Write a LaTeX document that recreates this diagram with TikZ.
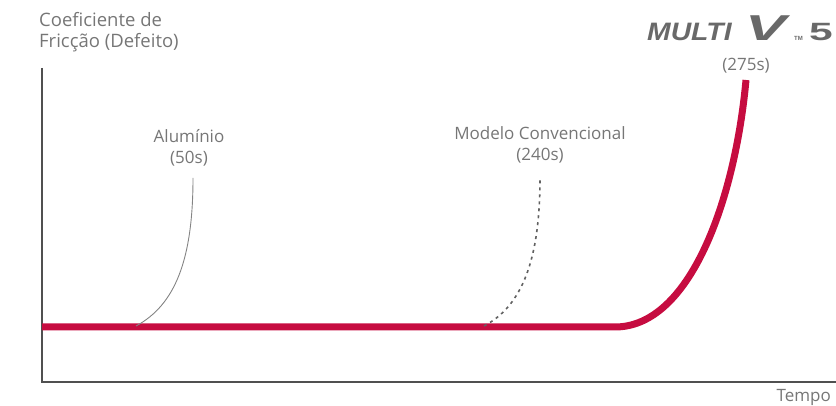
\documentclass[tikz,border=0pt]{standalone}
\usepackage{fontspec}
\setmainfont{Open Sans}
\newfontfamily\logofont{Liberation Sans}
\definecolor{lgred}{RGB}{198,12,64}
\definecolor{txtgray}{RGB}{118,118,118}
\definecolor{axisgray}{RGB}{80,80,80}
\definecolor{logogray}{RGB}{105,105,105}
\begin{document}
\begin{tikzpicture}[x=1pt,y=-1pt,
  lbl/.style={text=txtgray,font=\fontsize{17}{20.5}\selectfont,inner sep=0pt,align=center},
  logopart/.style={text=logogray,inner sep=0pt,anchor=base west},
  axisline/.style={draw=axisgray,line width=1.4pt},
  redline/.style={draw=lgred,line width=7pt},
  thincurve/.style={draw=txtgray!90,line width=0.9pt},
  dashcurve/.style={draw=axisgray!90,line width=1.6pt,dash pattern=on 3pt off 4pt}]
\useasboundingbox (0,0) rectangle (836,406);
% axes
\coordinate (o) at (42,382);
\coordinate (ytop) at (42,68);
\coordinate (xend) at (836,382);
\draw[axisline] (ytop) -- (o) -- (xend);
% red curve
\coordinate (r0) at (42,327);
\coordinate (r1) at (615,327);
\coordinate (r2) at (746,80);
\draw[redline] (r0) -- (r1) .. controls (690,327) and (735,200) .. (r2);
% aluminio
\coordinate (a0) at (136,326);
\coordinate (a1) at (193,178);
\draw[thincurve] (a0) .. controls (175,305) and (193,260) .. (a1);
% convencional
\coordinate (c0) at (484,326);
\coordinate (c1) at (540,178);
\draw[dashcurve] (c0) .. controls (522,306) and (540,260) .. (c1);
% labels
\node[lbl,anchor=north west,align=left,font=\fontsize{18.5}{21.5}\selectfont] (ylab) at (39,12) {Coeficiente de\\Fricção (Defeito)};
\node[lbl,anchor=south] (alu) at (189,166) {Alumínio\\(50s)};
\node[lbl,anchor=south] (conv) at (540,163) {Modelo Convencional\\(240s)};
\node[lbl,anchor=south] (t275) at (746,73) {(275s)};
\node[lbl,anchor=south east] (tempo) at (831,406) {Tempo};
% logo
\node[logopart] (lm) at (647,41) {\logofont\bfseries\itshape\scalebox{1.18}[1.05]{\fontsize{24}{24}\selectfont MULTI}};
\node[logopart] (lv) at (745,41) {\logofont\bfseries\itshape\scalebox{1.7}[1]{\fontsize{36}{36}\selectfont V}};
\node[logopart] (ltm) at (794,41) {\logofont\bfseries\fontsize{6}{6}\selectfont TM};
\node[logopart] (l5) at (809,41) {\logofont\bfseries\scalebox{1.7}[1]{\fontsize{25}{25}\selectfont 5}};
\end{tikzpicture}
\end{document}
